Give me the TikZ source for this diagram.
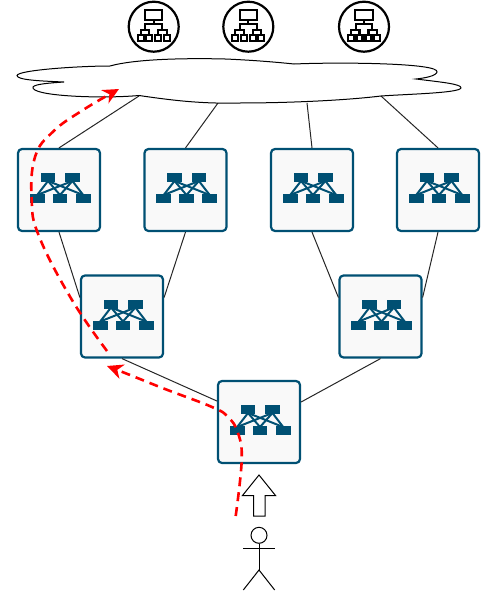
\documentclass[tikz,border=0pt]{standalone}
\usetikzlibrary{arrows.meta}
\definecolor{swblue}{HTML}{005073}
\definecolor{swfill}{HTML}{F9F9F9}
\tikzset{
  switchbox/.style={draw=swblue,fill=swfill,line width=2.2pt,rounded corners=4pt,minimum size=82pt,inner sep=0pt},
  link/.style={draw=black!85,line width=1pt},
  swpart/.style={fill=swblue,draw=none},
  swwire/.style={draw=swblue,line width=2pt},
  svcring/.style={circle,draw=black,fill=white,line width=2.2pt,minimum size=50pt,inner sep=0pt},
  svcline/.style={draw=black,line width=2.1pt},
  route/.style={draw=red,line width=2.6pt,dash pattern=on 9pt off 6pt,
    -{Stealth[length=16pt,width=15pt,inset=5pt]}},
  outline/.style={draw=black,line width=1pt},
}
\newcommand{\switchicon}[1]{%
  \begin{scope}[shift={(#1.center)}]
    \foreach \tx in {-11,13.4}{
      \foreach \bx in {-21.8,1,24.2}{
        \draw[swwire] (\tx,-9) -- (\bx,5);
      }
    }
    \foreach \tx in {-11,13.4}{
      \fill[swpart] (\tx-7.4,-17) rectangle (\tx+7.4,-8);
    }
    \foreach \bx in {-21.8,1,24.2}{
      \fill[swpart] (\bx-7.4,4.3) rectangle (\bx+7.4,13.3);
    }
  \end{scope}}
\newcommand{\serviceicon}[1]{%
  \begin{scope}[shift={(#1.center)}]
    \draw[svcline] (-8.7,-16.7) rectangle (8.7,-6.9);
    \draw[svcline] (0,-6.9) -- (0,-2.5);
    \draw[svcline] (-8.3,3) -- (-8.3,-2.5) -- (8.3,-2.5) -- (8.3,3);
    \draw[svcline] (-13,8) -- (-13,3) -- (-4.5,3) -- (-4.5,8);
    \draw[svcline] (4.5,8) -- (4.5,3) -- (13,3) -- (13,8);
    \foreach \sx in {-13,-4.5,4.5,13}{
      \draw[svcline] (\sx-3,8) rectangle (\sx+3,14);
    }
  \end{scope}}
\begin{document}
\begin{tikzpicture}[x=1pt,y=-1pt]
\useasboundingbox (0,0) rectangle (503,602);
% cloud attachment points
\coordinate (c1) at (139,96);
\coordinate (c2) at (218,103);
\coordinate (c3) at (307,103);
\coordinate (c4) at (381,96);
% switches
\node[switchbox] (s1) at (59,190) {};
\node[switchbox] (s2) at (185.5,190) {};
\node[switchbox] (s3) at (312,190) {};
\node[switchbox] (s4) at (438,190) {};
\node[switchbox] (m1) at (122,316.5) {};
\node[switchbox] (m2) at (380.5,316.5) {};
\node[switchbox] (b) at (259,422) {};
% links
\draw[link] (s1.north) -- (c1);
\draw[link] (s2.north) -- (c2);
\draw[link] (s3.north) -- (c3);
\draw[link] (s4.north) -- (c4);
\draw[link] (s1.south) -- ([yshift=19pt]m1.west);
\draw[link] (s2.south) -- ([yshift=19pt]m1.east);
\draw[link] (s3.south) -- ([yshift=19pt]m2.west);
\draw[link] (s4.south) -- ([yshift=19pt]m2.east);
\draw[link] (m1.south) -- ([yshift=21pt]b.west);
\draw[link] (m2.south) -- ([yshift=20pt]b.east);
\switchicon{s1}\switchicon{s2}\switchicon{s3}\switchicon{s4}
\switchicon{m1}\switchicon{m2}\switchicon{b}
% cloud
\draw[outline,fill=white] (110,66)
  .. controls (135,59) and (185,58) .. (225,59)
  .. controls (250,60) and (275,62) .. (294,64)
  .. controls (340,62) and (440,63) .. (437,72)
  .. controls (436,76) and (425,78) .. (416,79)
  .. controls (440,82) and (462,84) .. (461,88)
  .. controls (459,93) and (410,94) .. (381,96)
  .. controls (340,101) and (280,103) .. (240,103)
  .. controls (200,104) and (170,100) .. (139,95.5)
  .. controls (100,99) and (30,96) .. (33,87)
  .. controls (35,84) and (50,83) .. (64,82)
  .. controls (40,81) and (17,80) .. (17,75.5)
  .. controls (18,70) and (80,66) .. (110,66) -- cycle;
% service icons
\node[svcring] (a1) at (153.7,26.7) {};
\node[svcring] (a2) at (248.3,26.7) {};
\node[svcring] (a3) at (364,26.7) {};
\serviceicon{a1}\serviceicon{a2}\serviceicon{a3}
% up arrow
\draw[outline,fill=white,line join=miter] (259,475) -- (275.5,495.5) -- (265,495.5) -- (265,516) -- (253.5,516) -- (253.5,495.5) -- (242.5,495.5) -- cycle;
% person
\node[circle,draw=black,line width=1pt,minimum size=16pt,inner sep=0pt] (head) at (259,535.3) {};
\coordinate (hip) at (259,570);
\draw[outline] (head.south) -- (hip);
\draw[outline] (243.3,548) -- (274.7,548);
\draw[outline] (243.3,590) -- (hip) -- (274.7,590);
% routes
\draw[route] plot[smooth,tension=0.7] coordinates {(235.7,516) (241.7,460) (238,433) (228,417) (212,407) (165,389) (125,373) (107,366)};
\draw[route] plot[smooth,tension=0.7] coordinates {(107,351) (72,300) (39.3,237) (31.7,200) (35,157) (53,131.7) (83,110) (119,89)};
\end{tikzpicture}
\end{document}
